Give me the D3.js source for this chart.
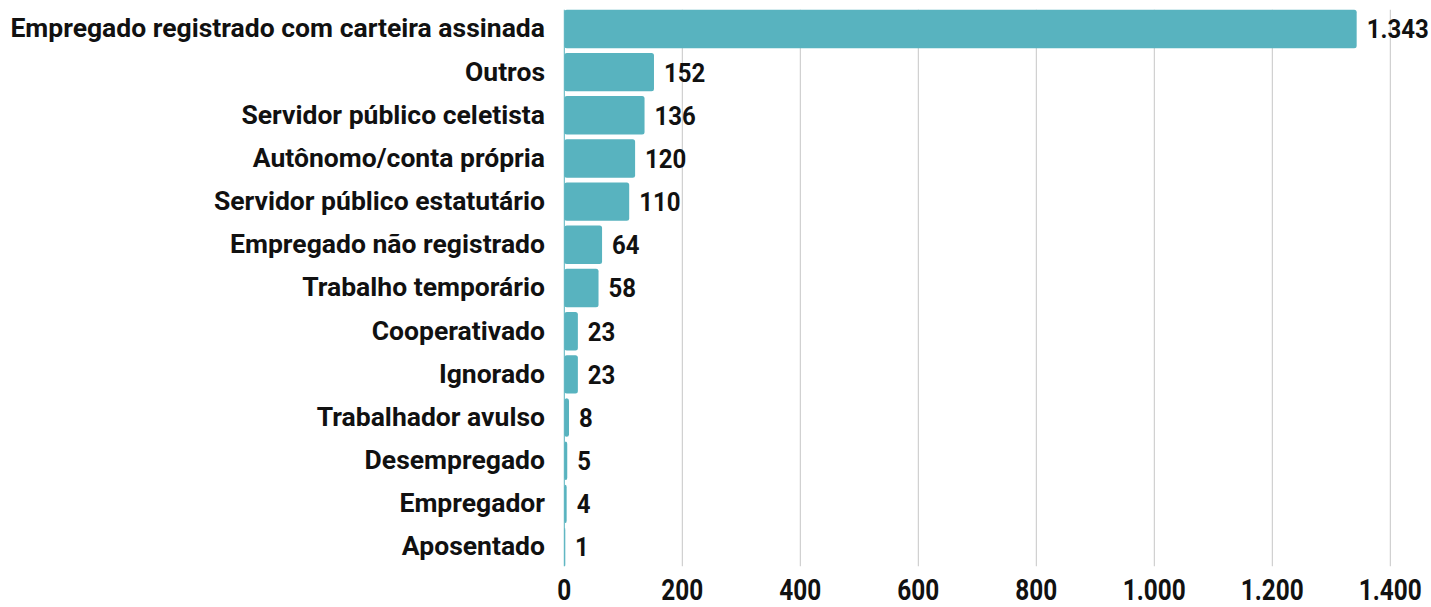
<!DOCTYPE html>
<html>
<head>
<meta charset="utf-8">
<script src="https://cdn.jsdelivr.net/npm/d3@7"></script>
<style>
  body { margin: 0; background: #fff; }
  text { font-family: Roboto, "Liberation Sans", sans-serif; font-weight: bold; fill: #111; }
</style>
</head>
<body>
<div id="chart"></div>
<script>
(function() {
  var width = 1431,
    height = 607;

  // categories and values, top to bottom
  var categories = [
    "Empregado registrado com carteira assinada",
    "Outros",
    "Servidor público celetista",
    "Autônomo/conta própria",
    "Servidor público estatutário",
    "Empregado não registrado",
    "Trabalho temporário",
    "Cooperativado",
    "Ignorado",
    "Trabalhador avulso",
    "Desempregado",
    "Empregador",
    "Aposentado"
  ];
  var values = [1343, 152, 136, 120, 110, 64, 58, 23, 23, 8, 5, 4, 1];
  var ticks = [0, 200, 400, 600, 800, 1000, 1200, 1400];

  var data = categories.map(function(c, i) { return { cat: c, value: values[i] }; });

  var locale = d3.formatLocale({ decimal: ",", thousands: ".", grouping: [3], currency: ["", ""] });
  var fmt = locale.format(",d");

  var svg = d3.select("#chart")
    .append("svg")
    .attr("width", width)
    .attr("height", height);

  var x = d3.scaleLinear()
    .domain([0, 1400])
    .range([564.3, 1390.3]);

  var y = d3.scaleBand()
    .domain(categories)
    .range([5, 571])
    .paddingInner(0.11)
    .paddingOuter(0.11);

  var gridTop = y(categories[0]),
    gridBottom = y(categories[categories.length - 1]) + y.bandwidth();

  // the reference font is a condensed one, so squeeze the text horizontally
  function squeezeFor(str, size, target) {
    var probe = svg.append("text").style("font-size", size + "px").text(str);
    var k = target / probe.node().getComputedTextLength();
    probe.remove();
    return k;
  }
  var labelSqueeze = squeezeFor(categories[0], 26, 535);
  var valueSqueeze = squeezeFor(fmt(1343), 26, 62);
  var tickSqueeze = squeezeFor(fmt(1400), 29, 63);

  // vertical gridlines
  svg.append("g")
    .selectAll("line")
    .data(ticks)
    .enter().append("line")
    .attr("x1", function(d) { return x(d); })
    .attr("x2", function(d) { return x(d); })
    .attr("y1", gridTop)
    .attr("y2", gridBottom)
    .attr("stroke", function(d) { return d === 0 ? "#58b3bf" : "#c6c6c6"; })
    .attr("stroke-width", 1);

  // bars
  svg.append("g")
    .selectAll("rect")
    .data(data)
    .enter().append("rect")
    .attr("x", x(0))
    .attr("y", function(d) { return y(d.cat); })
    .attr("width", function(d) { return Math.max(1, x(d.value) - x(0)); })
    .attr("height", y.bandwidth())
    .attr("rx", 2.5)
    .attr("fill", "#58b3bf");

  // category labels
  svg.append("g")
    .selectAll("g")
    .data(data)
    .enter().append("g")
    .attr("transform", function(d) {
      return "translate(545," + (y(d.cat) + y.bandwidth() / 2 - 1) + ") scale(" + labelSqueeze + ",1)";
    })
    .append("text")
    .attr("dy", "0.36em")
    .attr("text-anchor", "end")
    .style("font-size", "26px")
    .text(function(d) { return d.cat; });

  // value labels
  svg.append("g")
    .selectAll("g")
    .data(data)
    .enter().append("g")
    .attr("transform", function(d) {
      return "translate(" + (x(d.value) + 10) + "," + (y(d.cat) + y.bandwidth() / 2) + ") scale(" + valueSqueeze + ",1)";
    })
    .append("text")
    .attr("dy", "0.36em")
    .style("font-size", "26px")
    .text(function(d) { return fmt(d.value); });

  // x axis tick labels
  svg.append("g")
    .selectAll("g")
    .data(ticks)
    .enter().append("g")
    .attr("transform", function(d) { return "translate(" + x(d) + ",600) scale(" + tickSqueeze + ",1)"; })
    .append("text")
    .attr("text-anchor", "middle")
    .style("font-size", "29px")
    .text(function(d) { return fmt(d); });
})();
</script>
</body>
</html>
